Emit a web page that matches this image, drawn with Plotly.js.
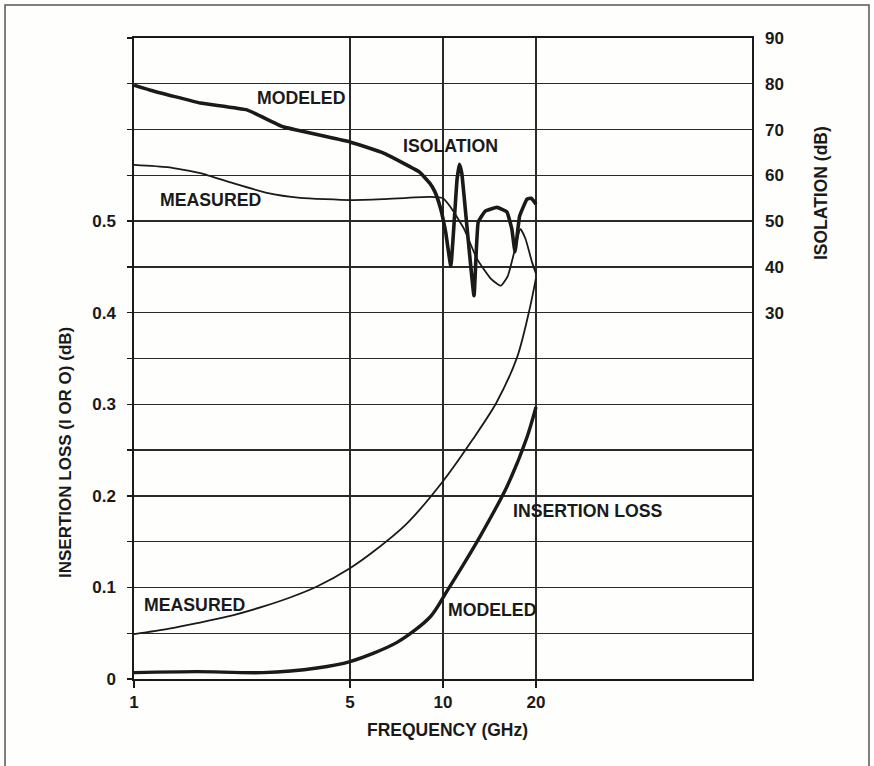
<!DOCTYPE html>
<html>
<head>
<meta charset="utf-8">
<script src="https://cdn.plot.ly/plotly-3.0.1.min.js"></script>
<style>html,body{margin:0;padding:0;background:#fefefc;}#chart{width:874px;height:766px;}</style>
</head>
<body>
<div id="chart"></div>
<script>
// Frequencies in GHz, insertion loss in dB (left axis), isolation in dB (right axis)
const isoModF  = [1, 1.13, 1.64, 2.32, 3.04, 5.0, 6.4, 8.4, 9.06, 9.4, 9.8, 10.2, 10.6, 11.1, 11.3, 11.5, 12.0, 12.6, 13.0, 13.7, 14.95, 16.1, 16.7, 17.1, 17.7, 18.7, 19.3, 20];
const isoModDB = [79.7, 78.6, 75.8, 74.3, 70.6, 67.3, 64.9, 60.7, 58.3, 56.5, 53.0, 47.6, 40.2, 59.0, 62.4, 60.5, 47.6, 33.7, 49.8, 52.2, 53.0, 52.0, 48.3, 43.3, 51.1, 54.8, 55.0, 53.7];

const isoMeasF  = [1, 1.28, 1.64, 2.09, 2.69, 3.45, 5, 6.4, 9.06, 10, 10.6, 11.7, 12.9, 14.3, 15.4, 16.2, 17.2, 17.8, 18.5, 19.4, 20];
const isoMeasDB = [62.3, 61.8, 60.5, 58.3, 56.2, 55.1, 54.6, 54.8, 55.3, 55.0, 53.0, 48.3, 41.7, 37.4, 35.9, 38.0, 44.6, 48.3, 46.1, 41.1, 38.5];

const ilMeasF = [1, 1.3, 1.6, 2.0, 2.61, 3.2, 3.91, 5, 6.0, 7.65, 10, 12.5, 14.9, 17.4, 19.1, 20];
const ilMeas  = [0.049, 0.055, 0.061, 0.068, 0.079, 0.089, 0.101, 0.121, 0.140, 0.170, 0.216, 0.262, 0.302, 0.352, 0.405, 0.438];

const ilModF = [1, 1.6, 2.61, 3.91, 5, 7.1, 9.1, 10.3, 11.6, 13.2, 16.1, 18.7, 20];
const ilMod  = [0.007, 0.008, 0.007, 0.012, 0.019, 0.04, 0.068, 0.096, 0.124, 0.156, 0.21, 0.264, 0.297];

const xTicks = [1, 5, 10, 20];
const yTicks = [0, 0.05, 0.1, 0.15, 0.2, 0.25, 0.3, 0.35, 0.4, 0.45, 0.5, 0.55, 0.6, 0.65, 0.7];
const yTickText = ['0', '', '0.1', '', '0.2', '', '0.3', '', '0.4', '', '0.5', '', '', '', ''];
const y2Ticks = [30, 40, 50, 60, 70, 80, 90];

const INK = '#1a1a1a';
const FONT = '"Liberation Sans", Arial, Helvetica, sans-serif';
const bold = s => s === '' ? '' : '<b>' + s + '</b>';

const traces = [
  {x: isoModF, y: isoModDB, yaxis: 'y2', mode: 'lines', line: {color: INK, width: 3.6, shape: 'spline', smoothing: 0.3}},
  {x: isoMeasF, y: isoMeasDB, yaxis: 'y2', mode: 'lines', line: {color: INK, width: 1.8, shape: 'spline', smoothing: 0.5}},
  {x: ilMeasF, y: ilMeas, mode: 'lines', line: {color: INK, width: 1.8, shape: 'spline', smoothing: 0.8}},
  {x: ilModF, y: ilMod, mode: 'lines', line: {color: INK, width: 3.4, shape: 'spline', smoothing: 0.8}}
];

function ann(text, x, y, size, angle) {
  return {text: '<b>' + text + '</b>', x: x, y: y, xref: 'paper', yref: 'paper',
    xanchor: 'center', yanchor: 'middle', showarrow: false, textangle: angle || 0,
    font: {family: FONT, size: size, color: INK}};
}

const layout = {
  width: 874, height: 766,
  margin: {l: 134, r: 122, t: 38, b: 87},
  paper_bgcolor: '#fefefc', plot_bgcolor: '#fefefc',
  showlegend: false,
  font: {family: FONT, color: INK},
  xaxis: {
    type: 'log', range: [0, 2],
    tickvals: xTicks, ticktext: xTicks.map(v => bold(String(v))),
    showgrid: true, gridcolor: '#2a2a2a', gridwidth: 1.3,
    showline: true, mirror: true, linecolor: INK, linewidth: 1.6,
    ticks: 'outside', ticklen: 7, tickwidth: 1.3, tickcolor: INK,
    zeroline: false, tickfont: {family: FONT, size: 17, color: INK}
  },
  yaxis: {
    range: [0, 0.7],
    tickvals: yTicks, ticktext: yTickText.map(bold),
    showgrid: true, gridcolor: '#2a2a2a', gridwidth: 1.3,
    showline: true, mirror: true, linecolor: INK, linewidth: 1.6,
    ticks: 'outside', ticklen: 5, tickwidth: 1.3, tickcolor: INK,
    ticklabelstandoff: 8,
    zeroline: false, tickfont: {family: FONT, size: 17, color: INK}
  },
  yaxis2: {
    overlaying: 'y', side: 'right', range: [-50, 90],
    tickvals: y2Ticks, ticktext: y2Ticks.map(v => bold(String(v))),
    showgrid: false, showline: false, zeroline: false, ticks: '',
    ticklabelstandoff: 12,
    tickfont: {family: FONT, size: 17, color: INK}
  },
  annotations: [
    ann('MODELED', 0.2718, 0.9061, 17.7),
    ann('ISOLATION', 0.5129, 0.8321, 17.7),
    ann('MEASURED', 0.1238, 0.7480, 17.7),
    ann('INSERTION LOSS', 0.7346, 0.2621, 17.7),
    ann('MEASURED', 0.0971, 0.1147, 17.7),
    ann('MODELED', 0.5793, 0.1070, 17.7),
    ann('FREQUENCY (GHz)', 0.5073, -0.0800, 17.5),
    ann('INSERTION LOSS (I OR O) (dB)', -0.1100, 0.3526, 17, -90),
    ann('ISOLATION (dB)', 1.1117, 0.7582, 17.5, -90)
  ],
  shapes: [
    {type: 'rect', xref: 'paper', yref: 'paper', x0: -0.2087, x1: 1.1893, y0: -0.2, y1: 1.0515,
     line: {color: '#555', width: 1.5}, fillcolor: 'rgba(0,0,0,0)', layer: 'below'}
  ]
};

Plotly.newPlot('chart', traces, layout, {displayModeBar: false, staticPlot: true});
</script>
</body>
</html>
